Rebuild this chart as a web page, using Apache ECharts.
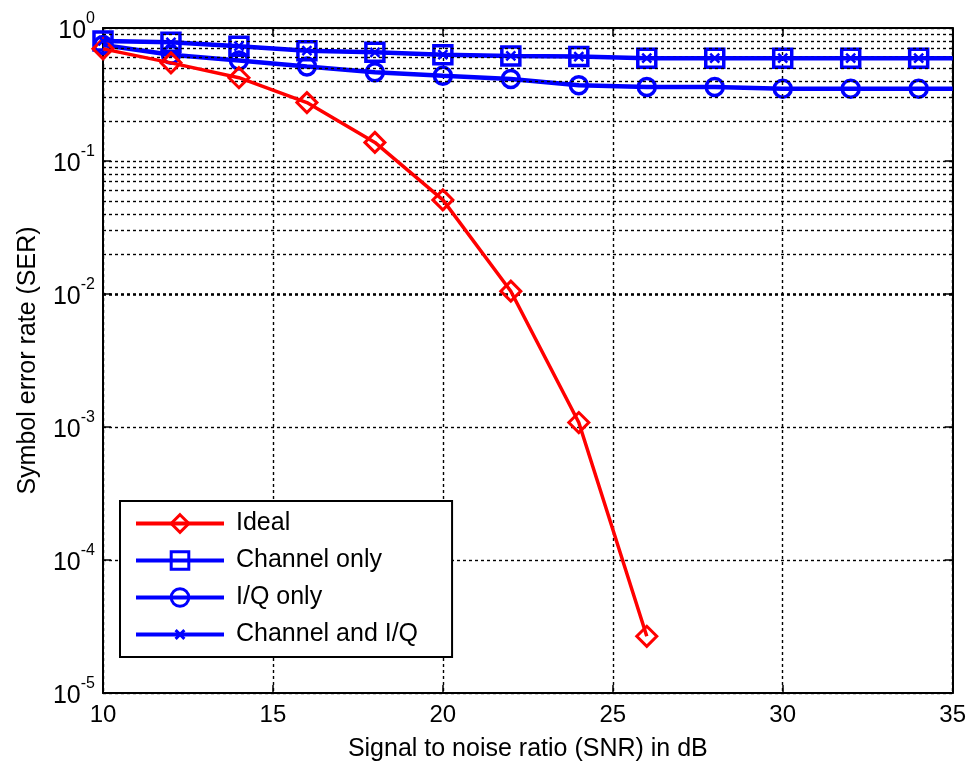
<!DOCTYPE html>
<html><head><meta charset="utf-8">
<script src="https://cdn.jsdelivr.net/npm/echarts@6/dist/echarts.min.js"></script>
<style>html,body{margin:0;padding:0;background:#fff}#c{width:969px;height:767px}</style>
</head><body><div id="c"></div>
<script>
const snr = [10,12,14,16,18,20,22,24,26,28,30,32,34];
const idealSER = [0.697,0.547,0.423,0.275,0.138,0.051,0.0105,0.00108,2.67e-5];
const channelOnlySER = [0.80,0.78,0.73,0.675,0.656,0.63,0.617,0.61,0.593,0.593,0.593,0.593,0.593];
const iqOnlySER = [0.746,0.63,0.57,0.514,0.465,0.438,0.414,0.371,0.36,0.36,0.35,0.35,0.35];
const channelIqSER = [0.80,0.78,0.73,0.675,0.656,0.63,0.617,0.61,0.593,0.593,0.593,0.593,0.593];
const lineEnd = 35;
const seriesNames = ['Ideal','Channel only','I/Q only','Channel and I/Q'];

const FONT = 'Liberation Sans, Arial, sans-serif';
function pairs(xs, ys, extendTo) {
  const d = ys.map((v,i)=>[xs[i], v]);
  if (extendTo !== undefined) d.push({value:[extendTo, ys[ys.length-1]], symbol:'none'});
  return d;
}
const minorVals = [];
for (let k=-5;k<=-1;k++) for (let m=2;m<=9;m++) minorVals.push(m*Math.pow(10,k));

const chart = echarts.init(document.getElementById('c'), null, {renderer:'canvas'});
const dotted = {color:'#000', type:[3,3], width:1.4};
const supLabel = {
  fontFamily: FONT, color:'#000', margin: 8,
  formatter: v => '{b|10}{s|' + Math.round(Math.log10(v)) + '}',
  rich: {
    b: {fontSize: 25, fontFamily: FONT, color:'#000', padding:[6,0,0,0]},
    s: {fontSize: 16, fontFamily: FONT, color:'#000', padding:[0,0,18,0]}
  }
};
const axisBase = {
  axisLine:{lineStyle:{color:'#000', width:2}},
  axisTick:{inside:true, length:8, lineStyle:{color:'#000', width:1.5}}
};
chart.setOption({
  backgroundColor:'#fff',
  animation:false,
  grid:{left:103, right:16, top:28, bottom:70, containLabel:false},
  xAxis:[Object.assign({
    type:'value', min:10, max:35, interval:5,
    name:'Signal to noise ratio (SNR) in dB', nameLocation:'middle', nameGap:44,
    nameTextStyle:{fontSize:25, fontFamily:FONT, color:'#000'},
    axisLabel:{fontSize:24, fontFamily:FONT, color:'#000', margin:10},
    splitLine:{show:true, lineStyle:dotted}
  }, axisBase), Object.assign({
    type:'value', min:10, max:35, interval:5, position:'top',
    axisLabel:{show:false}, splitLine:{show:false}
  }, axisBase)],
  yAxis:[Object.assign({
    type:'log', logBase:10, min:1e-5, max:1,
    name:'Symbol error rate (SER)', nameLocation:'middle', nameGap:62,
    nameTextStyle:{fontSize:25, fontFamily:FONT, color:'#000'},
    axisLabel:supLabel,
    splitLine:{show:true, lineStyle:dotted}
  }, axisBase), Object.assign({
    type:'log', logBase:10, min:1e-5, max:1, position:'right',
    axisLabel:{show:false}, splitLine:{show:false}
  }, axisBase)],
  legend:{
    data: seriesNames,
    orient:'vertical', left:120, top:501,
    padding:[10,34,10,14],
    borderColor:'#000', borderWidth:2, backgroundColor:'#fff',
    itemWidth:88, itemHeight:22, itemGap:12,
    lineStyle:{width:4},
    itemStyle:{borderWidth:3},
    textStyle:{fontSize:25, fontFamily:FONT, color:'#000', padding:[0,0,0,7]}
  },
  series:[
    {
      name:'_grid', type:'line', data:[], z:1, silent:true,
      markLine:{silent:true, symbol:'none', label:{show:false}, animation:false,
        lineStyle:dotted, emphasis:{disabled:true},
        data: minorVals.map(v=>({yAxis:v}))}
    },
    {
      name:seriesNames[0], type:'line', z:5,
      data: pairs(snr, idealSER),
      symbol:'diamond', symbolSize:20,
      lineStyle:{color:'#ff0000', width:3.5},
      itemStyle:{color:'rgba(0,0,0,0)', borderColor:'#ff0000', borderWidth:3}
    },
    {
      name:seriesNames[1], type:'line', z:4,
      data: pairs(snr, channelOnlySER, lineEnd),
      symbol:'rect', symbolSize:18,
      lineStyle:{color:'#0000ff', width:4.5},
      itemStyle:{color:'rgba(0,0,0,0)', borderColor:'#0000ff', borderWidth:3.5}
    },
    {
      name:seriesNames[2], type:'line', z:4,
      data: pairs(snr, iqOnlySER, lineEnd),
      symbol:'circle', symbolSize:17,
      lineStyle:{color:'#0000ff', width:4.5},
      itemStyle:{color:'rgba(0,0,0,0)', borderColor:'#0000ff', borderWidth:3.5}
    },
    {
      name:seriesNames[3], type:'line', z:6,
      data: pairs(snr, channelIqSER, lineEnd),
      symbol:'path://M-5,-5M0,0L10,10M10,0L0,10M15,15', symbolSize:18,
      lineStyle:{color:'#0000ff', width:3},
      itemStyle:{color:'rgba(0,0,0,0)', borderColor:'#0000ff', borderWidth:2.5}
    }
  ]
});
</script></body></html>
